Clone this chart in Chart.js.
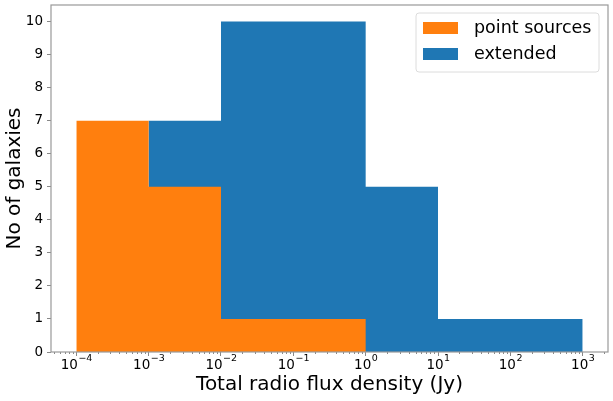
<!DOCTYPE html>
<html>
<head>
<meta charset="utf-8">
<script src="https://cdn.jsdelivr.net/npm/chart.js@4.4.0/dist/chart.umd.min.js"></script>
<style>
  html, body { margin: 0; padding: 0; background: #fff; }
  #wrap { width: 613px; height: 401px; }
</style>
</head>
<body>
<div id="wrap"><canvas id="histChart"></canvas></div>
<script>
  // bin edges in Jy, one bin per decade
  const binEdges = [1e-4, 1e-3, 1e-2, 1e-1, 1e0, 1e1, 1e2, 1e3];
  // number of galaxies in each bin
  const pointCounts = [7, 5, 1, 1, 0, 0, 0];
  const extendedCounts = [0, 7, 10, 10, 5, 1, 1];
  const seriesLabels = ['point sources', 'extended'];
  const seriesColors = ['#ff7f0e', '#1f77b4'];
  // tick labels
  const xTickExps = [-4, -3, -2, -1, 0, 1, 2, 3];
  const yTicks = [0, 1, 2, 3, 4, 5, 6, 7, 8, 9, 10];

  const FONT = "'DejaVu Sans', 'Liberation Sans', sans-serif";

  // turn per-bin counts into step points (left edge carries the value)
  function stepPoints(counts) {
    return binEdges.map((e, i) => ({ x: e, y: i < counts.length ? counts[i] : 0 }));
  }

  // frame round the plot, 10^n tick labels, legend box in the upper right
  const framePlugin = {
    id: 'frame',
    afterDraw(chart) {
      const ctx = chart.ctx;
      const a = chart.chartArea;
      ctx.save();
      ctx.strokeStyle = '#999';
      ctx.lineWidth = 1.2;
      ctx.strokeRect(a.left, a.top, a.right - a.left, a.bottom - a.top);

      // x tick labels with raised exponents
      const xs = chart.scales.x;
      ctx.fillStyle = '#000';
      ctx.textBaseline = 'alphabetic';
      ctx.textAlign = 'left';
      xTickExps.forEach(exp => {
        const px = xs.getPixelForValue(Math.pow(10, exp));
        const base = '10';
        const sup = String(exp).replace('-', '\u2212');
        ctx.font = '13.5px ' + FONT;
        const w1 = ctx.measureText(base).width;
        ctx.font = '9.5px ' + FONT;
        const w2 = ctx.measureText(sup).width;
        const x0 = px - (w1 + w2) / 2;
        ctx.font = '13.5px ' + FONT;
        ctx.fillText(base, x0, a.bottom + 16.5);
        ctx.font = '9.5px ' + FONT;
        ctx.fillText(sup, x0 + w1 + 0.5, a.bottom + 9);
      });

      // legend
      const bx = a.right - 192, by = a.top + 8, bw = 183, bh = 59;
      ctx.beginPath();
      ctx.roundRect(bx, by, bw, bh, 3);
      ctx.fillStyle = 'rgba(255,255,255,0.8)';
      ctx.fill();
      ctx.strokeStyle = '#dcdcdc';
      ctx.lineWidth = 1;
      ctx.stroke();

      ctx.font = '17.5px ' + FONT;
      ctx.textBaseline = 'middle';
      chart.data.datasets.forEach((ds, i) => {
        const cy = by + 15 + i * 26;
        ctx.fillStyle = ds.backgroundColor;
        ctx.fillRect(bx + 7, cy - 6, 35, 12);
        ctx.fillStyle = '#000';
        ctx.fillText(ds.label, bx + 58, cy);
      });
      ctx.restore();
    }
  };

  const ctx = document.getElementById('histChart').getContext('2d');
  const histChart = new Chart(ctx, {
    type: 'line',
    data: {
      datasets: [
        {
          label: seriesLabels[0],
          data: stepPoints(pointCounts),
          stepped: 'before',
          fill: 'origin',
          backgroundColor: seriesColors[0],
          borderWidth: 0,
          pointRadius: 0
        },
        {
          label: seriesLabels[1],
          data: stepPoints(extendedCounts),
          stepped: 'before',
          fill: 'origin',
          backgroundColor: seriesColors[1],
          borderWidth: 0,
          pointRadius: 0
        }
      ]
    },
    options: {
      responsive: true,
      maintainAspectRatio: false,
      animation: false,
      layout: { padding: { top: 5, right: 5, left: 0, bottom: 0 } },
      plugins: {
        legend: { display: false },
        tooltip: { enabled: false }
      },
      scales: {
        x: {
          type: 'logarithmic',
          min: Math.pow(10, -4.35),
          max: Math.pow(10, 3.35),
          border: { display: false },
          grid: {
            drawOnChartArea: false,
            tickLength: 4,
            tickColor: '#888',
            tickWidth: 1,
            tickBorderDash: c => (c.tick && c.tick.major) ? [] : [2, 20]
          },
          ticks: {
            autoSkip: false,
            maxRotation: 0,
            padding: 1,
            callback: () => ''
          },
          afterBuildTicks: function(scale) {
            const ticks = [];
            for (let d = xTickExps[0] - 1; d <= xTickExps[xTickExps.length - 1]; d++) {
              for (let k = 1; k <= 9; k++) {
                const v = k * Math.pow(10, d);
                if (v >= scale.min && v <= scale.max) {
                  ticks.push({ value: v, major: k === 1 });
                }
              }
            }
            scale.ticks = ticks;
          },
          afterFit: function(scale) {
            scale.height = 49;
            scale.paddingLeft = 0;
            scale.paddingRight = 0;
          },
          title: {
            display: true,
            text: 'Total radio flux density (Jy)',
            color: '#000',
            font: { family: FONT, size: 20 },
            padding: { top: 0, bottom: 4 }
          }
        },
        y: {
          min: 0,
          max: 10.5,
          border: { display: false },
          grid: {
            drawOnChartArea: false,
            tickLength: 4,
            tickColor: '#888'
          },
          ticks: {
            padding: 4,
            color: '#000',
            font: { family: FONT, size: 13.5 }
          },
          afterBuildTicks: function(scale) {
            scale.ticks = yTicks.map(v => ({ value: v }));
          },
          afterFit: function(scale) {
            scale.width = 51;
            scale.paddingTop = 0;
            scale.paddingBottom = 0;
          },
          title: {
            display: true,
            text: 'No of galaxies',
            color: '#000',
            font: { family: FONT, size: 20 },
            padding: { top: 3, bottom: 0 }
          }
        }
      }
    },
    plugins: [framePlugin]
  });
</script>
</body>
</html>
